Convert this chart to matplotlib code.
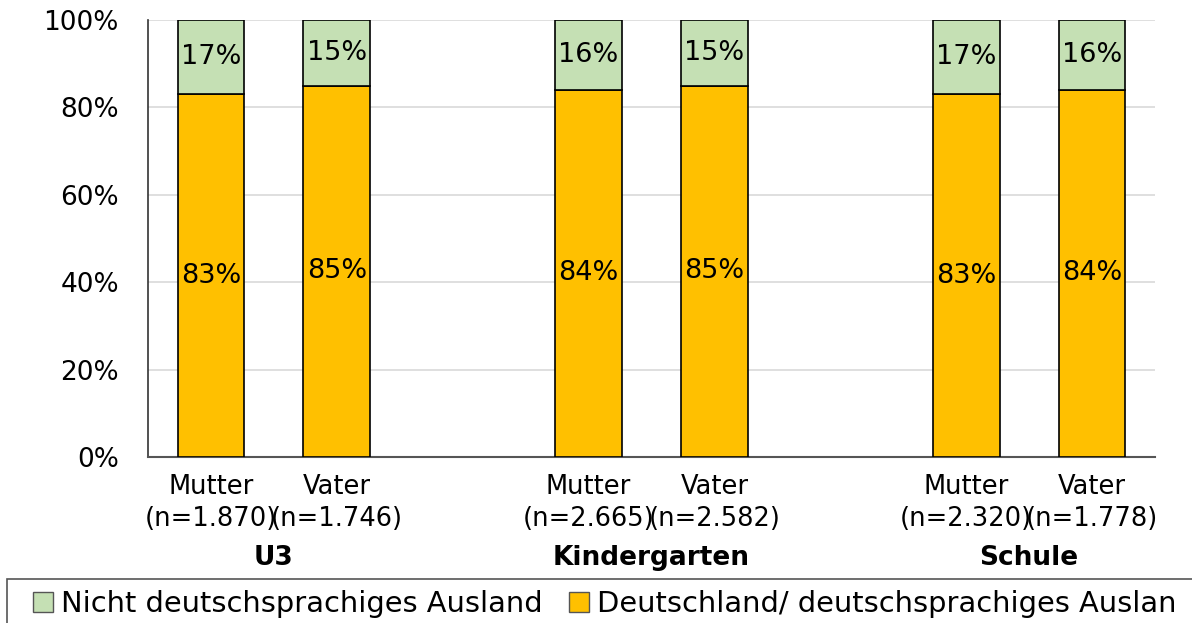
import matplotlib
matplotlib.use("Agg")
import matplotlib.pyplot as plt
import matplotlib.transforms as mtransforms
from matplotlib.patches import Patch, Rectangle

groups = ["U3", "Kindergarten", "Schule"]
bar_labels = ["Mutter\n(n=1.870)", "Vater\n(n=1.746)",
              "Mutter\n(n=2.665)", "Vater\n(n=2.582)",
              "Mutter\n(n=2.320)", "Vater\n(n=1.778)"]
deutsch = [83, 85, 84, 85, 83, 84]
nicht = [17, 15, 16, 15, 17, 16]
series_names = ["Nicht deutschsprachiges Ausland", "Deutschland/ deutschsprachiges Auslan"]

plt.rcParams['font.family'] = ['DejaVu Sans']
fig = plt.figure(figsize=(11.92, 6.23), dpi=100)
ax = fig.add_axes([148/1192, 1-457/623, (1155-148)/1192, (457-20)/623])

positions = [0, 1, 3, 4, 6, 7]
orange = "#FFC000"
green = "#C5E0B4"
w = 0.53
ax.bar(positions, deutsch, width=w, color=orange, edgecolor="black", linewidth=1.2, zorder=3)
ax.bar(positions, nicht, width=w, bottom=deutsch, color=green, edgecolor="black", linewidth=1.2, zorder=3)

for p, d, n in zip(positions, deutsch, nicht):
    ax.text(p, d / 2, f"{d}%", ha="center", va="center", fontsize=19.5, zorder=4)
    ax.text(p, d + n / 2, f"{n}%", ha="center", va="center", fontsize=19.5, zorder=4)

ax.set_xlim(-0.5, 7.5)
ax.set_ylim(0, 100)
ax.set_yticks([0, 20, 40, 60, 80, 100])
ax.set_yticklabels([f"{v}%" for v in [0, 20, 40, 60, 80, 100]], fontsize=19)
ax.set_xticks(positions)
ax.set_xticklabels(bar_labels, fontsize=18.5, linespacing=1.3)
ax.tick_params(axis="y", length=0, pad=21)
ax.tick_params(axis="x", length=0, pad=12)
ax.grid(axis="y", color="#d9d9d9", linewidth=1.2, zorder=0)
ax.set_axisbelow(True)
for s in ["top", "right"]:
    ax.spines[s].set_visible(False)
ax.spines["left"].set_color("#333333")
ax.spines["bottom"].set_color("#555555")
ax.spines["left"].set_linewidth(1.2)
ax.spines["bottom"].set_linewidth(1.5)

trans = mtransforms.blended_transform_factory(ax.transData, fig.transFigure)
for gi, g in enumerate(groups):
    cx = (positions[2 * gi] + positions[2 * gi + 1]) / 2
    ax.text(cx, 1 - 558 / 623, g, transform=trans, fontsize=19, fontweight="bold",
            ha="center", va="center", clip_on=False)

# legend frame
fig.patches.append(Rectangle((7 / 1192, -0.05), 1.2, 1 - 579 / 623 + 0.05,
                             transform=fig.transFigure, fill=False,
                             edgecolor="#555555", linewidth=1.2))

handles = [Patch(facecolor=green, edgecolor="#555555", linewidth=1.0),
           Patch(facecolor=orange, edgecolor="#555555", linewidth=1.0)]
leg = fig.legend(handles, series_names, loc="center left",
                 bbox_to_anchor=(33 / 1192, 1 - 604 / 623), ncol=2, fontsize=20.8,
                 frameon=False,
                 handlelength=0.68, handleheight=0.68, handletextpad=0.3,
                 columnspacing=0.9, borderpad=0.0, borderaxespad=0)

fig.savefig("out.png", dpi=100)
